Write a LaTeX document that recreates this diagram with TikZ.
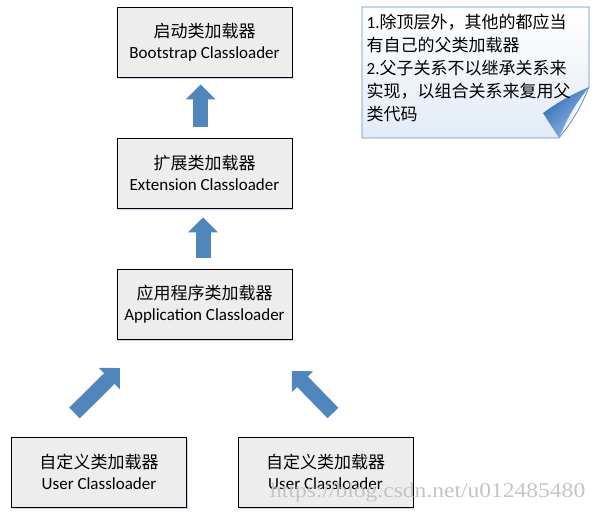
\documentclass[tikz,border=0pt]{standalone}
\usepackage{fontspec}
\setmainfont{Carlito}
\newfontfamily\cjk{Noto Sans CJK SC}
\newfontfamily\wmfont{Liberation Serif}
\usetikzlibrary{arrows.meta,shadows}
\definecolor{boxfill}{HTML}{EDEDED}
\definecolor{arrowblue}{HTML}{4F86BC}
\definecolor{notebord}{HTML}{5B8CC6}
\definecolor{notefill}{HTML}{E2EBF6}
\definecolor{folddark}{HTML}{2E6AB5}
\definecolor{foldlight}{HTML}{9DBFE8}
\definecolor{shadowcol}{HTML}{C7D6EA}
\definecolor{wmgray}{HTML}{C4C4C4}
\tikzset{
  loaderbox/.style={draw=black, line width=0.9bp, fill=boxfill,
    minimum width=175bp, minimum height=70bp, inner sep=0pt,
    align=center, font=\fontsize{17bp}{21bp}\selectfont,
    drop shadow={fill=shadowcol, opacity=1, shadow xshift=1.2bp, shadow yshift=-1.6bp}},
  blockarrow/.style={draw=arrowblue, line width=15bp,
    -{Triangle[width=29bp,length=15bp]}},
  notetext/.style={align=left, inner sep=0pt, anchor=north west,
    font=\fontsize{17bp}{23bp}\selectfont}
}
\begin{document}
\begin{tikzpicture}[x=1bp,y=-1bp]
\useasboundingbox (0,0) rectangle (597,512);
% boxes
\node[loaderbox] (boot) at (204.5,42) {{\cjk 启动类加载器}\\Bootstrap Classloader};
\node[loaderbox] (ext) at (204.5,173) {{\cjk 扩展类加载器}\\Extension Classloader};
\node[loaderbox] (app) at (204.5,304.5) {{\cjk 应用程序类加载器}\\Application Classloader};
\node[loaderbox] (user1) at (99,472) {{\cjk 自定义类加载器}\\User Classloader};
\node[loaderbox] (user2) at (325.5,472) {{\cjk 自定义类加载器}\\User Classloader};
% vertical block arrows
\draw[blockarrow] ([xshift=-3.8bp,yshift=11bp]ext.north) -- ([xshift=-3.8bp,yshift=-7bp]boot.south);
\draw[blockarrow] ([xshift=-1.5bp,yshift=11bp]app.north) -- ([xshift=-1.5bp,yshift=-9bp]ext.south);
% diagonal block arrows
\coordinate (la) at (74.5,413);
\coordinate (lb) at (120,368);
\coordinate (ra) at (333,413);
\coordinate (rb) at (292,371);
\draw[blockarrow] (la) -- (lb);
\draw[blockarrow] (ra) -- (rb);
% note
\coordinate (n1) at (362,7);
\coordinate (n2) at (589,7);
\coordinate (n3) at (589,87);
\coordinate (n4) at (559,138);
\coordinate (n5) at (362,138);
\coordinate (nf) at (543,113);
\shade[top color=white, bottom color=notefill] (n1) -- (n2) -- (n3) -- (n4) -- (n5) -- cycle;
\draw[notebord, line width=0.8bp] (n1) -- (n2) -- (n3) to[bend left=8] (n4) -- (n5) -- cycle;
\shade[left color=folddark, right color=foldlight, shading angle=45] (n3) to[bend right=6] (nf) -- (n4) to[bend left=8] (n3) -- cycle;
\node[notetext] (note) at (366.5,14) {1.{\cjk 除顶层外，其他的都应当}\\{\cjk 有自己的父类加载器}\\2.{\cjk 父子关系不以继承关系来}\\{\cjk 实现，以组合关系来复用父}\\{\cjk 类代码}};
% watermark
\node[anchor=base west, inner sep=0pt, text=wmgray] (wm) at (270,497)
  {\resizebox{315bp}{\height}{\wmfont\fontsize{21bp}{21bp}\selectfont https://blog.csdn.net/u012485480}};
\end{tikzpicture}
\end{document}
